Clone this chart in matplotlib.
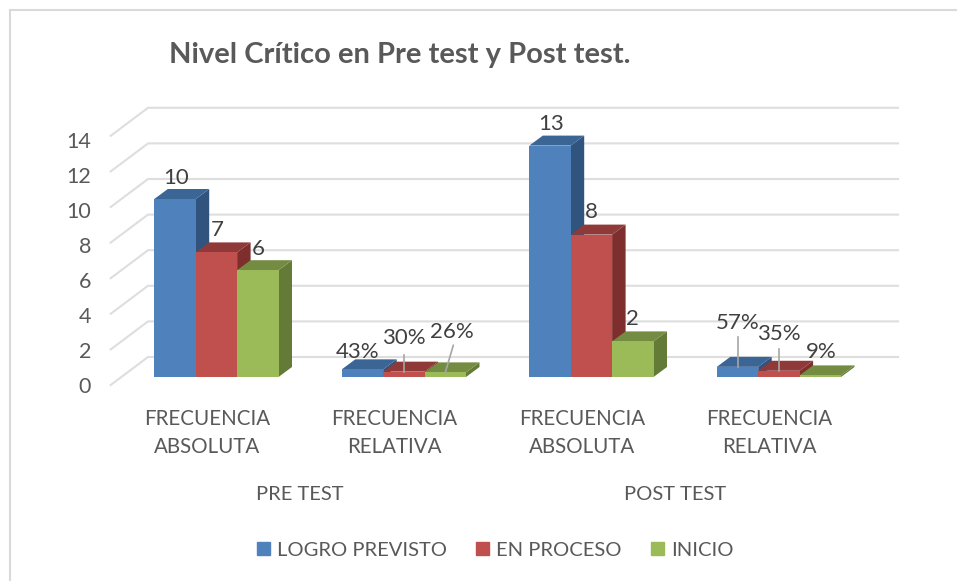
import matplotlib
matplotlib.use("Agg")
import matplotlib.pyplot as plt
from matplotlib.patches import Patch
from matplotlib.lines import Line2D

W, H = 957, 581
plt.rcParams['font.family'] = ['Lato', 'DejaVu Sans']

# ---- data ----
categories = ["FRECUENCIA\nABSOLUTA", "FRECUENCIA\nRELATIVA", "FRECUENCIA\nABSOLUTA", "FRECUENCIA\nRELATIVA"]
groups = ["PRE TEST", "POST TEST"]
series_names = ["LOGRO PREVISTO", "EN PROCESO", "INICIO"]
logro = [10, 0.43, 13, 0.57]
proceso = [7, 0.30, 8, 0.35]
inicio = [6, 0.26, 2, 0.09]
yticks = [0, 2, 4, 6, 8, 10, 12, 14]
title = "Nivel Crítico en Pre test y Post test."

# ---- styles / layout (pixels) ----
front = ["#4F81BD", "#C0504D", "#9BBB59"]
top = ["#3B6595", "#8F3A38", "#748C42"]
side = ["#31547F", "#7E2F2D", "#647A37"]
PX_X = 187.5      # pixels per category
PX_Y = 17.8       # pixels per value unit
CENTER0 = 207     # pixel x of the first category label
X0 = CENTER0 - 0.5 * PX_X
Y0 = 377
YMIN = -1.0
fig = plt.figure(figsize=(W / 100, H / 100), dpi=100, facecolor="white")
ax = fig.add_axes([X0 / W, (H - Y0 + YMIN * PX_Y) / H, 4 * PX_X / W, (14 - YMIN) * PX_Y / H])
for s in ax.spines.values():
    s.set_visible(False)
ax.patch.set_visible(False)

dx = lambda px: px / PX_X
dy = lambda px: px / PX_Y
bar_w = dx(41.4)
first = dx(154.3 - CENTER0)
DX, DY = dx(13.5), dy(10)

# chart frame: only the top and left edges show
fig.add_artist(Line2D([10 / W, 10 / W, 1], [0, 1 - 10 / H, 1 - 10 / H], transform=fig.transFigure,
                      color="#D9D9D9", lw=1.5, solid_joinstyle="miter"))

# back wall gridlines and floor/side diagonals
wall_left = -0.5 + dx(148 - X0)
wall_right = -0.5 + dx(898 - X0)
front_left = -0.5 + dx(110.7 - X0)
for v in yticks:
    ax.plot([front_left, wall_left, wall_right], [v + dy(-8), v + dy(20), v + dy(20)],
            color="#DEDEDE", lw=1.5, clip_on=False, zorder=1, solid_joinstyle="miter")

# bars
z = 3
for c in range(len(categories)):
    for k, vals in enumerate([logro, proceso, inicio]):
        v = vals[c]
        x = c + first + k * bar_w
        x1 = x + bar_w
        ax.fill([x1, x1 + DX, x1 + DX, x1], [0, DY, v + DY, v], color=side[k], lw=0, clip_on=False, zorder=z)
        ax.fill([x, x + DX, x1 + DX, x1], [v, v + DY, v + DY, v], color=top[k], lw=0, clip_on=False, zorder=z)
        ax.bar(x, v, width=bar_w, align="edge", color=front[k], lw=0, clip_on=False, zorder=z + 0.5)
        z += 1

# data labels: pixel offsets from each bar's front-top centre, rows by category
offsets = [
    [(1, 20.5), (1, 22.5), (0, 21.5)],
    [(-5, 17), (0, 33.5), (6.6, 40.5)],
    [(1, 21.5), (0, 23), (0, 22)],
    [(0, 43.5), (0, 36.5), (1.4, 23.5)],
]
# leader lines: (category, series) -> start offset and end offset in pixels
leaders = {(1, 1): (0, 0, 0, 17), (1, 2): (0, 0, 8, 27), (3, 0): (0, 0, 0, 30), (3, 1): (0, 0, 0, 22)}
for c in range(len(categories)):
    for k, vals in enumerate([logro, proceso, inicio]):
        v = vals[c]
        cx = c + first + (k + 0.5) * bar_w
        ox, oy = offsets[c][k]
        txt = f"{v:.0%}" if v < 1 else f"{v}"
        ax.annotate(txt, (cx, v), xytext=(ox * 0.72, oy * 0.72), textcoords="offset points",
                    ha="center", va="center", fontsize=16, color="#404040", zorder=100, annotation_clip=False)
        if (c, k) in leaders:
            a, b, e, f = leaders[(c, k)]
            ax.plot([cx + dx(a), cx + dx(e)], [v + dy(b), v + dy(f)], color="#A6A6A6", lw=1.2,
                    clip_on=False, zorder=99)

# axis labels
ax.set_yticks([v * 17.5 / PX_Y - 7.7 / PX_Y for v in yticks], [str(v) for v in yticks])
ax.set_xticks(range(len(categories)), categories)
ax.set_xlim(-0.5, 3.5)
ax.set_ylim(YMIN, 14)
ax.tick_params(axis="y", length=0, pad=16.0, labelsize=15.5, labelcolor="#595959")
ax.tick_params(axis="x", length=0, pad=10.5, labelsize=14.8, labelcolor="#595959")
for t in ax.get_xticklabels():
    t.set_linespacing(1.45)

for i, g in enumerate(groups):
    fig.text((300 + 375 * i) / W, 1 - 495 / H, g, ha="center", va="center", fontsize=14.5, color="#595959")

fig.text(400 / W, 1 - 55 / H, title, ha="center", va="center", fontsize=21, fontweight="bold", color="#595959")

handles = [Patch(color=c, label=n) for c, n in zip(front, series_names)]
fig.legend(handles=handles, loc="center", bbox_to_anchor=(495 / W, 1 - 550 / H), ncol=3, frameon=False,
           fontsize=14.5, labelcolor="#595959", handlelength=0.65, handleheight=0.65, handletextpad=0.35,
           columnspacing=1.45)

fig.savefig("out.png", dpi=100)
